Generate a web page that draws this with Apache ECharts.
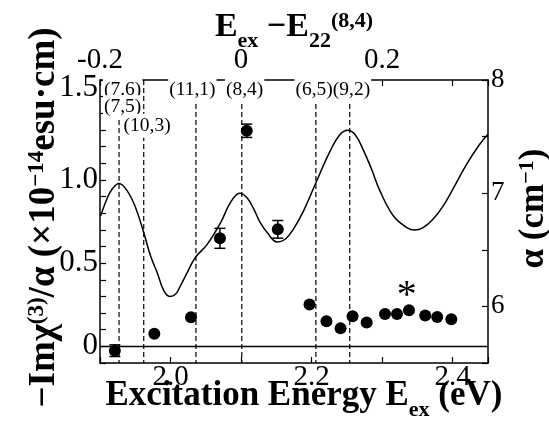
<!DOCTYPE html>
<html>
<head>
<meta charset="utf-8">
<script src="https://cdn.jsdelivr.net/npm/echarts@6/dist/echarts.min.js"></script>
<style>
  html, body { margin: 0; padding: 0; background: #fff; overflow: hidden; }
  #chart { width: 549px; height: 424px; }
</style>
</head>
<body>
<div id="chart"></div>
<script>
// Curve: absorption alpha (cm^-1) vs excitation energy (eV), right axis
const ABS_E = [1.901, 1.9105, 1.9176, 1.927, 1.9388, 1.9505, 1.962, 1.9717, 1.981, 1.9906,
  1.999, 2.007, 2.014, 2.0236, 2.035, 2.052, 2.071, 2.0848, 2.098, 2.1084, 2.118, 2.1272,
  2.137, 2.151, 2.1625, 2.174, 2.1884, 2.205, 2.226, 2.2403, 2.251, 2.2615, 2.273, 2.2851,
  2.297, 2.316, 2.335, 2.346, 2.358, 2.372, 2.3863, 2.400, 2.4194, 2.438, 2.45];
const ABS_ALPHA = [6.80, 6.96, 7.04, 7.086, 7.018, 6.872, 6.652, 6.445, 6.299, 6.137,
  6.088, 6.107, 6.181, 6.299, 6.431, 6.548, 6.740, 6.916, 7.0, 6.96, 6.859, 6.740,
  6.652, 6.569, 6.593, 6.681, 6.842, 7.077, 7.370, 7.518, 7.556, 7.518, 7.385, 7.209,
  7.018, 6.798, 6.696, 6.674, 6.696, 6.769, 6.886, 7.033, 7.253, 7.43, 7.52];

// Measured -Im chi(3)/alpha points (left axis) with error bars
const CHI_E   = [1.921, 1.977, 2.029, 2.070, 2.108, 2.152, 2.197, 2.221, 2.241, 2.258,
  2.278, 2.304, 2.321, 2.338, 2.361, 2.378, 2.398];
const CHI_VAL = [-0.026, 0.076, 0.175, 0.649, 1.295, 0.703, 0.251, 0.151, 0.108, 0.181,
  0.143, 0.195, 0.195, 0.217, 0.185, 0.177, 0.163];
const CHI_ERR = [0.035, 0, 0, 0.06, 0.04, 0.053, 0, 0, 0, 0, 0, 0, 0, 0, 0, 0, 0];

// E22 transitions of the chiralities (dashed lines)
const TRANS_E = [1.927, 1.962, 2.036, 2.101, 2.206, 2.254];
const TRANS_TEXT = ['(7.6)', '(7,5)', '(10,3)', '(11,1)', '(8,4)', '(6,5)(9,2)'];
const TRANS_TEXT_E = [1.960, 1.960, 1.932, 2.031, 2.105, 2.230];
const TRANS_TEXT_Y = [1.542, 1.436, 1.325, 1.542, 1.542, 1.542];
const TRANS_TEXT_ALIGN = ['right', 'right', 'left', 'center', 'center', 'center'];
const STAR = [[2.335, 0.30]];

const BOTTOM_TICKS = ['2.0', '2.2', '2.4'];
const TOP_TICKS = ['-0.2', '0', '0.2'];
const LEFT_TICKS = ['0', '0.5', '1.0', '1.5'];
const RIGHT_TICKS = ['6', '7', '8'];

const FONT = 'Liberation Serif';
const X_MIN = 1.9, X_MAX = 2.45, Y_MIN = -0.1, Y_MAX = 1.6;

const chart = echarts.init(document.getElementById('chart'), null, { renderer: 'canvas' });

const axisLine = { show: true, onZero: false, lineStyle: { color: '#000', width: 1.5 } };
const tick = { show: true, inside: true, length: 6, lineStyle: { color: '#000', width: 1.2 } };
function titleStyle(extra) {
  return Object.assign({
    fontFamily: FONT, fontSize: 35, fontWeight: 'bold', color: '#000',
    rich: {
      sub: { fontFamily: FONT, fontSize: 22, fontWeight: 'bold', verticalAlign: 'bottom', padding: [0, 0, -8, 0] },
      sup: { fontFamily: FONT, fontSize: 22, fontWeight: 'bold', verticalAlign: 'top' },
    },
  }, extra || {});
}
// show only the listed tick labels, formatted as in the figure
function fmt(list) {
  return v => {
    for (const l of list) if (Math.abs(parseFloat(l) - v) < 1e-6) return l === '1.5' ? '{up|1.5}' : l;
    return '';
  };
}

const option = {
  animation: false,
  backgroundColor: '#fff',
  grid: { left: 100, right: 61, top: 80, bottom: 61, containLabel: false, outerBoundsMode: 'none' },
  xAxis: [
    {
      type: 'value', position: 'bottom', min: X_MIN, max: X_MAX, interval: 0.1,
      axisLine, axisTick: tick, splitLine: { show: false },
      axisLabel: { formatter: fmt(BOTTOM_TICKS), fontFamily: FONT, fontSize: 29, color: '#000', margin: 0 },
      name: 'Excitation Energy E{sub|ex} (eV)', nameLocation: 'middle', nameGap: 15, nameMoveOverlap: false,
      nameTextStyle: titleStyle({ padding: [0, 0, 0, 20] }),
    },
    {
      type: 'value', position: 'top', min: -0.2, max: 0.35, interval: 0.1,
      axisLine, axisTick: tick, splitLine: { show: false },
      axisLabel: { formatter: fmt(TOP_TICKS), fontFamily: FONT, fontSize: 29, color: '#000', margin: 5 },
      name: 'E{sub|ex} −E{sub|22}{sup|(8,4)}', nameLocation: 'middle', nameGap: 36, nameMoveOverlap: false,
      nameTextStyle: titleStyle({ fontSize: 34 }),
    },
  ],
  yAxis: [
    {
      type: 'value', position: 'left', min: Y_MIN, max: Y_MAX, interval: 0.1,
      axisLine, axisTick: tick, splitLine: { show: false },
      axisLabel: {
        formatter: fmt(LEFT_TICKS), fontFamily: FONT, fontSize: 31, color: '#000', margin: 2,
        rich: { up: { fontFamily: FONT, fontSize: 31, color: '#000', padding: [0, 0, 18, 0] } },
      },
      name: '−Imχ{sup|(3)}/α (×10{sup|−14}esu·cm)', nameLocation: 'middle', nameRotate: 90, nameGap: 37,
      nameMoveOverlap: false,
      nameTextStyle: titleStyle({
        fontSize: 37, padding: [0, 0, 0, 8],
        rich: { sup: { fontFamily: FONT, fontSize: 23, fontWeight: 'bold', verticalAlign: 'top' } },
      }),
    },
    {
      type: 'value', position: 'right', min: 5.5, max: 8, interval: 0.5,
      axisLine, axisTick: tick, splitLine: { show: false },
      axisLabel: { formatter: fmt(RIGHT_TICKS), fontFamily: FONT, fontSize: 27, color: '#000', margin: 3 },
      name: 'α (cm{sup|−1})', nameLocation: 'middle', nameRotate: 90, nameGap: 28, nameMoveOverlap: false,
      nameTextStyle: titleStyle({ padding: [0, 0, 0, 26] }),
    },
  ],
  series: [
    {
      // dashed transition markers
      type: 'custom', xAxisIndex: 0, yAxisIndex: 0, z: 1, silent: true,
      data: TRANS_E.map(e => [e, 0]),
      renderItem(params, api) {
        const p1 = api.coord([api.value(0), Y_MAX]);
        const p2 = api.coord([api.value(0), Y_MIN]);
        return {
          type: 'line',
          shape: { x1: p1[0], y1: p1[1], x2: p2[0], y2: p2[1] },
          style: { stroke: '#000', lineWidth: 1.2, lineDash: [5, 3] },
        };
      },
    },
    {
      type: 'line', xAxisIndex: 0, yAxisIndex: 1, z: 2, silent: true,
      data: ABS_E.map((e, i) => [e, ABS_ALPHA[i]]),
      smooth: 0.4, showSymbol: false,
      lineStyle: { color: '#000', width: 1.5 },
    },
    {
      type: 'scatter', xAxisIndex: 0, yAxisIndex: 0, z: 3, silent: true,
      data: CHI_E.map((e, i) => [e, CHI_VAL[i]]),
      symbol: 'circle', symbolSize: 12,
      itemStyle: { color: '#000', opacity: 1 },
      markLine: {
        silent: true, symbol: 'none', label: { show: false },
        lineStyle: { color: '#000', type: 'solid', width: 1.3 },
        data: [{ yAxis: 0 }],
      },
    },
    {
      // error bars
      type: 'custom', xAxisIndex: 0, yAxisIndex: 0, z: 3, silent: true,
      data: CHI_E.map((e, i) => [e, CHI_VAL[i], CHI_ERR[i]]).filter(d => d[2] > 0),
      renderItem(params, api) {
        const x = api.value(0), y = api.value(1), e = api.value(2);
        const a = api.coord([x, y + e]), b = api.coord([x, y - e]);
        const w = 5.5, st = { stroke: '#000', lineWidth: 1.5 };
        return {
          type: 'group',
          children: [
            { type: 'line', shape: { x1: a[0], y1: a[1], x2: b[0], y2: b[1] }, style: st },
            { type: 'line', shape: { x1: a[0] - w, y1: a[1], x2: a[0] + w, y2: a[1] }, style: st },
            { type: 'line', shape: { x1: b[0] - w, y1: b[1], x2: b[0] + w, y2: b[1] }, style: st },
          ],
        };
      },
    },
    {
      // chirality labels, white boxes hide lines and the top border
      type: 'custom', xAxisIndex: 0, yAxisIndex: 0, z: 10, silent: true,
      data: TRANS_TEXT_E.map((e, i) => [e, TRANS_TEXT_Y[i]]),
      renderItem(params, api) {
        const i = params.dataIndex;
        const p = api.coord([api.value(0), api.value(1)]);
        return {
          type: 'text', x: p[0], y: p[1],
          style: {
            text: TRANS_TEXT[i], fill: '#000', font: '19.5px "Liberation Serif"',
            align: TRANS_TEXT_ALIGN[i], verticalAlign: 'middle',
            backgroundColor: '#fff', padding: [3, 1, 1, 1],
          },
        };
      },
    },
    {
      type: 'custom', xAxisIndex: 0, yAxisIndex: 0, z: 10, silent: true,
      data: STAR,
      renderItem(params, api) {
        const p = api.coord([api.value(0), api.value(1)]);
        return {
          type: 'text', x: p[0], y: p[1],
          style: { text: '*', fill: '#000', font: '40px "Liberation Serif"', align: 'center', verticalAlign: 'middle' },
        };
      },
    },
  ],
};
chart.setOption(option);
</script>
</body>
</html>
